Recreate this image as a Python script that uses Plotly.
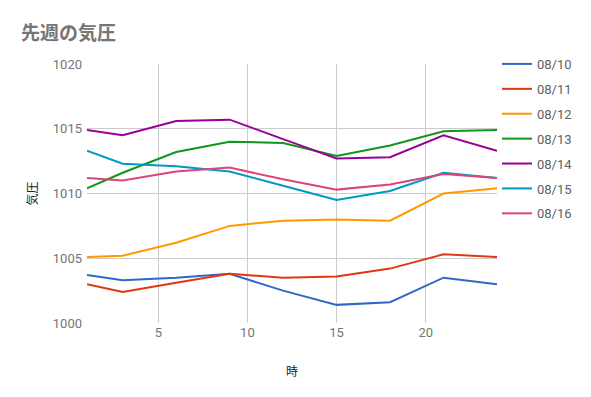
import plotly.graph_objects as go

hours = [1, 3, 6, 9, 12, 15, 18, 21, 24]
dates = ["08/10", "08/11", "08/12", "08/13", "08/14", "08/15", "08/16"]
p_0810 = [1003.7, 1003.3, 1003.5, 1003.8, 1002.5, 1001.4, 1001.6, 1003.5, 1003.0]
p_0811 = [1003.0, 1002.4, 1003.1, 1003.8, 1003.5, 1003.6, 1004.2, 1005.3, 1005.1]
p_0812 = [1005.1, 1005.2, 1006.2, 1007.5, 1007.9, 1008.0, 1007.9, 1010.0, 1010.4]
p_0813 = [1010.4, 1011.6, 1013.2, 1014.0, 1013.9, 1012.9, 1013.7, 1014.8, 1014.9]
p_0814 = [1014.9, 1014.5, 1015.6, 1015.7, 1014.2, 1012.7, 1012.8, 1014.5, 1013.3]
p_0815 = [1013.3, 1012.3, 1012.1, 1011.7, 1010.6, 1009.5, 1010.2, 1011.6, 1011.2]
p_0816 = [1011.2, 1011.0, 1011.7, 1012.0, 1011.1, 1010.3, 1010.7, 1011.5, 1011.2]
series = [p_0810, p_0811, p_0812, p_0813, p_0814, p_0815, p_0816]
colors = ["#3366cc", "#dc3912", "#ff9900", "#109618", "#990099", "#0099c6", "#dd4477"]
x_ticks = [5, 10, 15, 20]
y_ticks = [1000, 1005, 1010, 1015, 1020]

fig = go.Figure()
for name, vals, c in zip(dates, series, colors):
    fig.add_trace(go.Scatter(x=hours, y=vals, name=name, mode="lines",
                             line=dict(color=c, width=2), legendgroup=name))

fig.update_layout(
    width=583, height=389,
    margin=dict(l=79, r=94, t=56, b=74, autoexpand=False),
    paper_bgcolor="white", plot_bgcolor="white",
    font=dict(family="Roboto, Noto Sans CJK JP, sans-serif", color="#757575", size=13),
    title=dict(text="先週の気圧", x=13/583, xanchor="left", y=1-25/389, yanchor="middle",
               font=dict(family="Noto Sans CJK JP", size=19, color="#757575", weight="bold")),
    showlegend=True,
    legend=dict(x=1.0, xanchor="left", y=1.058, yanchor="top", tracegroupgap=5,
                font=dict(size=13, color="#616161"), itemwidth=30),
    xaxis=dict(range=[1, 24], tickvals=x_ticks, showgrid=True, gridcolor="#cccccc",
               zeroline=False, showline=False, ticks="", automargin=False,
               title=dict(text="時", font=dict(family="Noto Sans CJK JP", size=12, color="#222222"), standoff=28),
               tickfont=dict(size=13, color="#757575")),
    yaxis=dict(range=[1000, 1020], tickvals=y_ticks, showgrid=True, gridcolor="#cccccc",
               zeroline=False, showline=False, ticks="", automargin=False, ticklabelstandoff=4,
               title=dict(text="気圧", font=dict(family="Noto Sans CJK JP", size=12, color="#222222"), standoff=12),
               tickfont=dict(size=13, color="#757575")),
)
fig.write_html("out.html")
